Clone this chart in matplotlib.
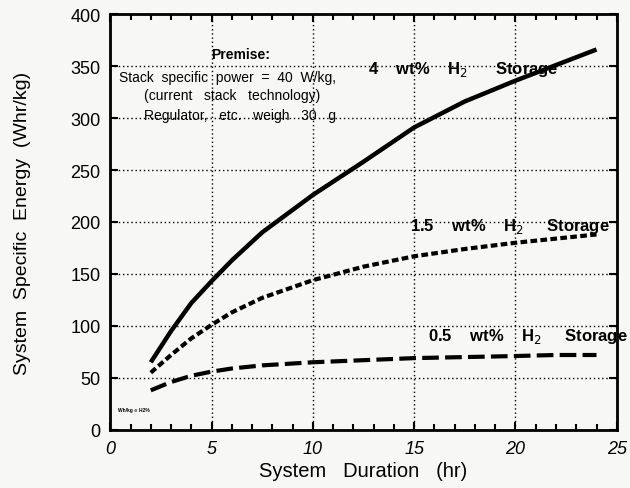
import matplotlib
matplotlib.use("Agg")
import matplotlib.pyplot as plt
from matplotlib.ticker import MultipleLocator

plt.rcParams['font.family'] = ['Liberation Sans', 'DejaVu Sans']

# curves
hours = [2, 3, 4, 5, 6, 7.5, 10, 12.5, 15, 17.5, 20, 22, 24]
e_4wt = [65, 95, 122, 143, 163, 190, 226, 258, 291, 316, 336, 351, 366]
e_15wt = [55, 72, 88, 101, 113, 127, 144, 157, 167, 174, 180, 184, 188]
e_05wt = [38, 46, 52, 56, 59, 62, 65, 67, 69, 70, 71, 72, 72]

x_ticks = [0, 5, 10, 15, 20, 25]
y_ticks = [0, 50, 100, 150, 200, 250, 300, 350, 400]

fig = plt.figure(figsize=(6.3, 4.89), dpi=100)
fig.patch.set_facecolor('#f7f7f5')
ax = fig.add_axes([0.175, 0.119, 0.804, 0.85])
ax.set_facecolor('#f7f7f5')

ax.plot(hours, e_4wt, color='black', linewidth=3.2, solid_capstyle='butt')
ax.plot(hours, e_15wt, color='black', linewidth=3, linestyle=(0, (1.6, 0.8)))
ax.plot(hours, e_05wt, color='black', linewidth=3, linestyle=(0, (4, 1.5)))

ax.set_xlim(0, 25)
ax.set_ylim(0, 400)
ax.set_xticks(x_ticks)
ax.set_yticks(y_ticks)
ax.xaxis.set_minor_locator(MultipleLocator(1))
ax.grid(True, which='major', color='black', linestyle=(0, (1, 2)), linewidth=1)
ax.tick_params(which='both', direction='in', top=True, right=True, width=1.5)
ax.tick_params(which='major', length=6, labelsize=13, pad=7)
ax.tick_params(which='minor', length=4)
for lbl in ax.get_xticklabels():
    lbl.set_fontstyle('italic')
for s in ax.spines.values():
    s.set_linewidth(2)

ax.set_xlabel('System   Duration   (hr)', fontsize=14.5, labelpad=3)
ax.set_ylabel('System  Specific  Energy  (Whr/kg)', fontsize=14, labelpad=28)

ax.text(6.45, 362, 'Premise:', fontsize=10, fontweight='bold', ha='center', va='center')
ax.text(0.45, 340, 'Stack  specific  power  =  40  W/kg,', fontsize=10, ha='left', va='center')
ax.text(1.65, 322, '(current   stack   technology)', fontsize=10, ha='left', va='center')
ax.text(1.65, 303, 'Regulator,   etc.   weigh   30   g', fontsize=10, ha='left', va='center')

ax.text(12.7, 348, '4    wt%    H$_2$      Storage', fontsize=12, fontweight='bold', ha='left', va='center')
ax.text(14.8, 197, '1.5    wt%    H$_2$     Storage', fontsize=12, fontweight='bold', ha='left', va='center')
ax.text(15.7, 91, '0.5    wt%    H$_2$     Storage', fontsize=12, fontweight='bold', ha='left', va='center',
        clip_on=False)
ax.text(0.4, 20, 'Wh/kg ∝ H2%', fontsize=3.5, fontweight='bold', ha='left', va='center')

plt.savefig('out.png', dpi=100)
